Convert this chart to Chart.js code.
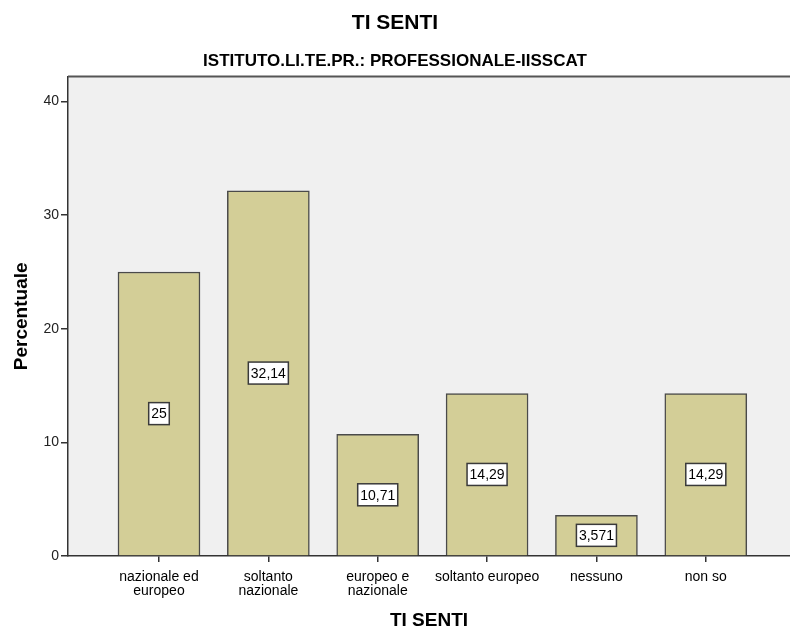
<!DOCTYPE html>
<html>
<head>
<meta charset="utf-8">
<script src="https://cdn.jsdelivr.net/npm/chart.js@4"></script>
<style>
  html, body { margin: 0; padding: 0; background: #ffffff; }
  #wrap { width: 790px; height: 626px; }
</style>
</head>
<body>
<div id="wrap"><canvas id="grafico"></canvas></div>
<script>
// Dati del grafico
var categorie = [
    ['nazionale ed', 'europeo'],
    ['soltanto', 'nazionale'],
    ['europeo e', 'nazionale'],
    'soltanto europeo',
    'nessuno',
    'non so'
];
var percentuali = [25, 32.14, 10.71, 14.29, 3.571, 14.29];
var tickY = [0, 10, 20, 30, 40];

var FONT = "'Liberation Sans', Arial, sans-serif";

// Sfondo grigio dell'area del grafico + bordo superiore
var sfondoPlugin = {
    id: 'sfondo',
    beforeDraw: function(chart) {
        var ctx = chart.ctx, a = chart.chartArea;
        ctx.save();
        ctx.fillStyle = '#f0f0f0';
        ctx.fillRect(a.left, a.top, a.right - a.left, a.bottom - a.top);
        ctx.restore();
    },
    afterDraw: function(chart) {
        var ctx = chart.ctx, a = chart.chartArea;
        ctx.save();
        ctx.strokeStyle = '#555555';
        ctx.lineWidth = 2;
        ctx.beginPath();
        ctx.moveTo(a.left, a.top);
        ctx.lineTo(a.right, a.top);
        ctx.stroke();
        ctx.restore();
    }
};

// Etichette con il valore dentro ogni barra
var etichettePlugin = {
    id: 'etichette',
    afterDatasetsDraw: function(chart) {
        var ctx = chart.ctx;
        var meta = chart.getDatasetMeta(0);
        ctx.save();
        ctx.font = '14px ' + FONT;
        ctx.textAlign = 'center';
        ctx.textBaseline = 'middle';
        meta.data.forEach(function(bar, i) {
            var testo = String(percentuali[i]).replace('.', ',');
            var cx = bar.x;
            var cy = (bar.y + bar.base) / 2;
            var w = ctx.measureText(testo).width + 5;
            var h = 22;
            ctx.fillStyle = '#ffffff';
            ctx.fillRect(cx - w / 2, cy - h / 2, w, h);
            ctx.strokeStyle = '#3a3a3a';
            ctx.lineWidth = 1.5;
            ctx.strokeRect(cx - w / 2, cy - h / 2, w, h);
            ctx.fillStyle = '#000000';
            ctx.fillText(testo, cx, cy + 1);
        });
        ctx.restore();
    }
};

var ctx = document.getElementById('grafico').getContext('2d');
var chart = new Chart(ctx, {
    type: 'bar',
    data: {
        datasets: [{
            data: percentuali.map(function(v, i) { return { x: i, y: v }; }),
            backgroundColor: '#d3ce97',
            borderColor: '#4a4a4a',
            borderWidth: 1.5,
            borderSkipped: 'bottom',
            barThickness: 82
        }]
    },
    options: {
        responsive: true,
        maintainAspectRatio: false,
        animation: false,
        layout: { padding: { left: 0, right: 0, top: 0, bottom: 0 } },
        plugins: {
            legend: { display: false },
            tooltip: { enabled: false },
            title: {
                display: true,
                text: 'TI SENTI',
                color: '#000000',
                font: { family: FONT, size: 21, weight: 'bold', lineHeight: 1.2 },
                padding: { top: 11, bottom: 8 }
            },
            subtitle: {
                display: true,
                text: 'ISTITUTO.LI.TE.PR.: PROFESSIONALE-IISSCAT',
                color: '#000000',
                font: { family: FONT, size: 17, weight: 'bold', lineHeight: 1.2 },
                padding: { top: 7, bottom: 5 }
            }
        },
        scales: {
            x: {
                type: 'linear',
                offset: false,
                min: -0.832,
                max: 5.77,
                afterBuildTicks: function(scale) {
                    scale.ticks = categorie.map(function(c, i) { return { value: i }; });
                },
                afterFit: function(scale) { scale.height = 70; },
                ticks: {
                    color: '#000000',
                    font: { family: FONT, size: 14, lineHeight: 1.0 },
                    padding: 8,
                    maxRotation: 0,
                    autoSkip: false,
                    callback: function(value) { return categorie[value]; }
                },
                grid: {
                    offset: false,
                    drawOnChartArea: false,
                    drawTicks: true,
                    tickLength: 6,
                    color: '#333333',
                    lineWidth: 1.5
                },
                border: { display: true, color: '#333333', width: 1.5 },
                title: {
                    display: true,
                    text: 'TI SENTI',
                    color: '#000000',
                    font: { family: FONT, size: 19, weight: 'bold', lineHeight: 0.6 },
                    padding: { top: 0, bottom: 0 }
                }
            },
            y: {
                min: 0,
                max: 42.2,
                afterBuildTicks: function(scale) {
                    scale.ticks = tickY.map(function(v) { return { value: v }; });
                },
                afterFit: function(scale) { scale.width = 68; },
                ticks: {
                    color: '#222222',
                    font: { family: FONT, size: 14 },
                    padding: 2
                },
                grid: {
                    drawOnChartArea: false,
                    drawTicks: true,
                    tickLength: 7,
                    color: '#333333',
                    lineWidth: 1.5
                },
                border: { display: true, color: '#333333', width: 1.5 },
                title: {
                    display: true,
                    text: 'Percentuale',
                    color: '#000000',
                    font: { family: FONT, size: 19, weight: 'bold' },
                    padding: { top: 10, bottom: 0 }
                }
            }
        }
    },
    plugins: [sfondoPlugin, etichettePlugin]
});
</script>
</body>
</html>
